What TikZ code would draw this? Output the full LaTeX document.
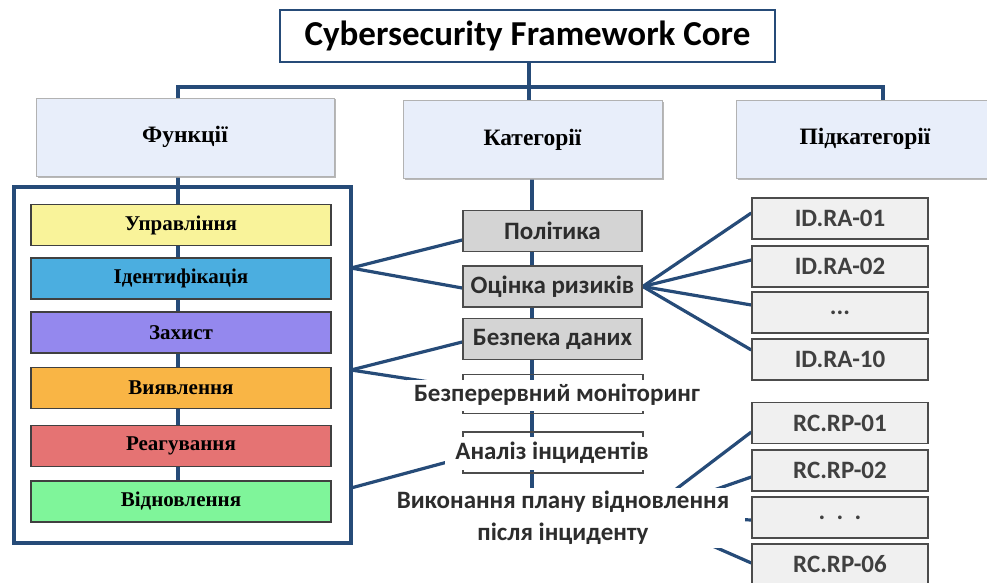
\documentclass[tikz,border=0pt]{standalone}
\usepackage{fontspec}
\setmainfont{Liberation Serif}
\newfontfamily\carl{Carlito}
\usetikzlibrary{calc,shadows}
\definecolor{navy}{RGB}{38,75,120}
\definecolor{hdrfill}{RGB}{232,238,250}
\definecolor{cyel}{RGB}{249,243,154}
\definecolor{cblue}{RGB}{75,174,224}
\definecolor{cpur}{RGB}{148,136,238}
\definecolor{cora}{RGB}{249,181,69}
\definecolor{cred}{RGB}{229,115,115}
\definecolor{cgrn}{RGB}{127,245,154}
\definecolor{catfill}{RGB}{212,212,212}
\definecolor{subfill}{RGB}{240,240,240}
\definecolor{txtgray}{RGB}{45,45,45}
\pgfdeclarelayer{bg}
\pgfsetlayers{bg,main}
\tikzset{
  conn/.style={draw=navy,line width=3.2pt},
  hdr/.style={rectangle,fill=hdrfill,draw=gray!60,line width=0.6pt,
    drop shadow={shadow xshift=1.5pt,shadow yshift=-1.5pt,fill=gray!70,opacity=0.8},
    font=\bfseries\fontsize{23.5}{26}\selectfont,minimum height=78pt},
  fbox/.style={rectangle,draw=black!75,line width=1.4pt,minimum width=300pt,minimum height=41pt,
    font=\bfseries\fontsize{21}{23}\selectfont},
  catbox/.style={rectangle,fill=catfill,draw=black!70,line width=1.6pt,minimum width=179pt,minimum height=41pt,
    inner sep=1pt,font=\carl\bfseries\fontsize{25}{27}\selectfont,text=txtgray},
  brbox/.style={rectangle,draw=black!70,line width=1.4pt,minimum width=180pt,minimum height=39pt},
  brtext/.style={rectangle,fill=white,inner sep=0pt,font=\carl\bfseries\fontsize{25}{27}\selectfont,text=txtgray},
  subbox/.style={rectangle,fill=subfill,draw=black!70,line width=1.4pt,minimum width=176pt,minimum height=41pt,
    inner sep=1pt,font=\carl\bfseries\fontsize{25}{27}\selectfont,text=black!75},
}
\begin{document}
\begin{tikzpicture}[x=1pt,y=-1pt]
\useasboundingbox (0,0) rectangle (987,583);
% title and headers
\node[rectangle,draw=navy,line width=2.6pt,minimum width=495pt,minimum height=52pt,inner sep=1pt,
  font=\carl\bfseries\fontsize{35}{38}\selectfont] (title) at (527.5,36) {Cybersecurity Framework Core};
\node[hdr,minimum width=298pt] (func) at (185,137) {Функції};
\node[hdr,minimum width=259pt] (cat) at (532.5,139.5) {Категорії};
\node[hdr,minimum width=258pt] (sub) at (865,139) {Підкатегорії};
\coordinate (tj) at (529,87);
\coordinate (subtop) at (883,100);
\coordinate (cattop) at (529,100);
% frame and function boxes
\draw[navy,line width=4pt] (14,187) rectangle (351,543);
\node[fbox,fill=cyel] (f1) at (181,225) {Управління};
\node[fbox,fill=cblue] (f2) at (181,278.5) {Ідентифікація};
\node[fbox,fill=cpur] (f3) at (181,332.5) {Захист};
\node[fbox,fill=cora] (f4) at (181,388) {Виявлення};
\node[fbox,fill=cred] (f5) at (181,446) {Реагування};
\node[fbox,fill=cgrn] (f6) at (181,501.5) {Відновлення};
\coordinate (fr1) at (351,268);
\coordinate (fr2) at (351,370);
\coordinate (fr3) at (351,488);
% categories
\node[catbox] (c1) at (552.5,231) {Політика};
\node[catbox] (c2) at (552.5,286.5) {Оцінка ризиків};
\node[catbox] (c3) at (552.5,339) {Безпека даних};
\node[brbox] (c4b) at (553,394) {};
\node[brtext,minimum width=300pt,minimum height=31pt] (c4) at (557,395) {Безперервний моніторинг};
\node[brbox,minimum height=41pt] (c5b) at (553,452.5) {};
\node[brtext,minimum width=215pt,minimum height=33pt] (c5) at (552,453) {Аналіз інцидентів};
\node[brtext,align=center,minimum width=364pt,minimum height=60pt,
  font=\carl\bfseries\fontsize{25}{32}\selectfont] (c6) at (563,518) {Виконання плану відновлення\\після інциденту};
\coordinate (c6hub) at (642,515);
\coordinate (mid) at (532,490);
% subcategories
\node[subbox] (s1) at (840,218.5) {ID.RA-01};
\node[subbox] (s2) at (840,266.5) {ID.RA-02};
\node[subbox] (s3) at (840,312.5) {...};
\node[subbox] (s4) at (840,359.5) {ID.RA-10};
\node[subbox] (r1) at (840,423) {RC.RP-01};
\node[subbox] (r2) at (840,470.5) {RC.RP-02};
\node[subbox] (r3) at (840,517.5) {.\ \ .\ \ .};
\node[subbox] (r4) at (840,564.5) {RC.RP-06};
% connectors
\begin{pgfonlayer}{bg}
\draw[conn] (title.south -| tj) -- (tj);
\draw[conn] (func.north -| 178,0) |- (tj) -| (subtop);
\draw[conn] (tj) -- (cattop);
\draw[conn] (178,176) -- (178,481);
\draw[conn] (cat.south -| mid) -- (mid);
\draw[conn] (fr1) -- ($(c1.west)+(0,9)$);
\draw[conn] (fr1) -- ($(c2.west)+(0,1.5)$);
\draw[conn] (fr2) -- ($(c3.west)+(0,3)$);
\draw[conn] (fr2) -- ($(c4b.west)+(0,-7)$);
\draw[conn] (fr3) -- ($(c5b.west)+(0,5.5)$);
\draw[conn] (c2.east) -- ($(s1.west)+(0,-5.5)$);
\draw[conn] (c2.east) -- ($(s2.west)+(0,-6.5)$);
\draw[conn] (c2.east) -- ($(s3.west)+(0,-7.5)$);
\draw[conn] (c2.east) -- ($(s4.west)+(0,-9.5)$);
\draw[conn] (c6hub) -- ($(r1.west)+(0,9)$);
\draw[conn] (c6hub) -- ($(r2.west)+(0,6.5)$);
\draw[conn] (c6hub) -- ($(r3.west)+(0,2.5)$);
\draw[conn] (c6hub) -- ($(r4.west)+(0,-1.5)$);
\end{pgfonlayer}
\end{tikzpicture}
\end{document}
